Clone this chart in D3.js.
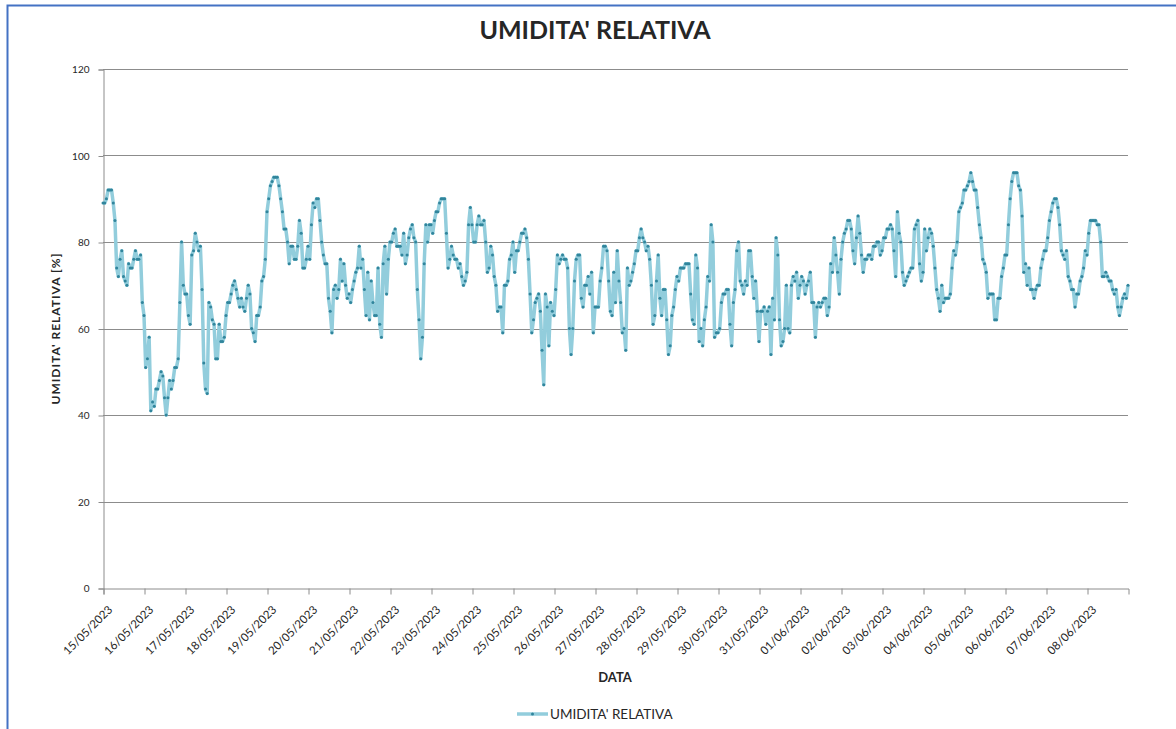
<!DOCTYPE html>
<html>
<head>
<meta charset="utf-8">
<script src="https://cdn.jsdelivr.net/npm/d3@7"></script>
<style>
  body { margin: 0; background: #fff; }
  svg text { font-family: Lato, "Liberation Sans", sans-serif; fill: #262626; }
</style>
</head>
<body>
<svg id="chart" width="1176" height="729"></svg>
<script>
// dati orari, dal 15/05/2023 00:00 al 09/06/2023 00:00 (una riga = un giorno)
var startDay = '15/05/2023';
var humidity = [
  89,89,90,92,92,92,89,85,74,72,76,78,72,71,70,75,74,74,76,78,76,76,77,66,
  63,51,53,58,41,43,42,46,46,48,50,49,44,40,44,48,46,48,51,51,53,66,80,70,
  68,68,63,61,77,78,82,80,78,79,69,52,46,45,66,65,62,61,53,53,61,57,57,58,
  63,66,66,68,70,71,69,67,65,67,65,64,67,70,68,60,59,57,63,63,65,71,72,76,
  87,90,93,94,95,95,95,93,90,87,83,83,80,75,79,79,76,76,79,85,82,74,74,76,
  79,76,84,89,88,90,90,85,80,77,75,75,67,64,59,69,70,67,69,76,71,75,70,67,
  68,66,69,71,73,74,79,74,76,69,63,73,62,71,66,63,63,74,61,58,75,79,68,76,
  80,80,82,83,79,79,79,77,82,75,77,81,83,84,81,80,69,62,53,58,75,84,80,84,
  84,82,85,87,87,89,90,90,90,82,74,76,79,77,76,76,74,75,72,70,71,73,84,88,
  84,80,80,84,86,84,84,85,80,73,74,79,77,72,70,64,65,65,59,70,70,71,76,77,
  80,73,78,78,80,82,82,83,81,76,68,59,62,66,67,68,64,55,47,68,65,56,66,64,
  63,69,77,75,76,77,76,76,74,60,54,60,71,76,77,77,67,65,70,70,72,68,73,59,
  65,65,65,71,74,79,79,78,71,64,63,73,66,78,71,66,59,60,55,74,70,71,73,75,
  78,78,81,83,81,80,78,79,76,70,61,63,71,77,67,63,69,69,62,54,56,63,65,69,
  72,71,74,74,74,75,75,75,68,62,61,77,74,57,60,56,62,65,72,71,84,80,58,59,
  59,60,66,68,68,69,69,61,56,66,69,78,80,71,70,68,71,70,78,78,72,67,71,64,
  57,64,64,65,61,64,65,54,67,62,81,77,62,56,57,60,70,60,59,70,72,71,73,67,
  70,72,71,68,70,71,73,66,66,58,65,66,65,66,67,67,63,65,75,73,81,77,73,68,
  76,80,82,83,85,85,83,78,75,81,86,82,77,73,76,76,77,77,76,79,79,80,80,77,
  78,81,81,83,83,84,83,78,72,87,82,80,73,70,71,72,73,74,74,83,84,85,75,71,
  73,83,78,81,83,82,79,74,69,67,64,70,66,67,67,67,68,74,78,77,80,87,88,89,
  92,92,93,94,96,94,92,92,88,84,81,76,75,73,67,68,68,68,62,62,67,67,72,74,
  77,77,84,90,94,96,96,96,93,92,86,73,75,70,74,69,69,67,69,70,70,74,76,78,
  78,81,85,87,89,90,90,88,84,78,77,76,78,72,71,69,69,65,68,68,71,72,74,78,
  77,82,85,85,85,85,84,84,80,72,72,73,72,71,71,69,68,69,65,63,65,67,68,67,
  70
];
var dayLabels = [
  '15/05/2023','16/05/2023','17/05/2023','18/05/2023','19/05/2023','20/05/2023',
  '21/05/2023','22/05/2023','23/05/2023','24/05/2023','25/05/2023','26/05/2023',
  '27/05/2023','28/05/2023','29/05/2023','30/05/2023','31/05/2023','01/06/2023',
  '02/06/2023','03/06/2023','04/06/2023','05/06/2023','06/06/2023','07/06/2023',
  '08/06/2023'
];
var yTicks = [0, 20, 40, 60, 80, 100, 120];

(function() {
  var parseDay = d3.utcParse('%d/%m/%Y');
  var fmtDay = d3.utcFormat('%d/%m/%Y');
  var t0 = parseDay(startDay);

  var data = humidity.map(function(v, i) {
    return { date: d3.utcHour.offset(t0, i), value: v };
  });

  var svg = d3.select('#chart');
  var plotLeft = 103, plotRight = 1128, plotTop = 69, plotBottom = 588;

  var x = d3.scaleUtc()
    .domain([t0, d3.utcDay.offset(t0, dayLabels.length)])
    .range([plotLeft, plotRight]);
  var y = d3.scaleLinear()
    .domain([0, 120])
    .range([plotBottom, plotTop]);

  // cornice
  svg.append('path')
    .attr('d', 'M7.5,729 V5.5 H1176')
    .attr('fill', 'none')
    .attr('stroke', '#4472c4')
    .attr('stroke-width', 2);

  // griglia
  svg.append('g')
    .selectAll('line')
    .data(yTicks.slice(1))
    .enter()
    .append('line')
    .attr('x1', plotLeft)
    .attr('x2', plotRight)
    .attr('y1', function(d) { return Math.round(y(d)) + 0.5; })
    .attr('y2', function(d) { return Math.round(y(d)) + 0.5; })
    .attr('stroke', '#8c8c8c')
    .attr('stroke-width', 1);

  // asse y
  var yAxis = svg.append('g')
    .attr('transform', 'translate(' + (plotLeft + 0.5) + ',0.5)')
    .call(d3.axisLeft(y).tickValues(yTicks).tickSize(5).tickPadding(9));
  yAxis.selectAll('line, path').attr('stroke', '#8c8c8c');
  yAxis.selectAll('text').style('font-size', '10px').style('fill', '#262626');

  // asse x
  var xAxis = svg.append('g')
    .attr('transform', 'translate(0.5,' + (plotBottom + 0.5) + ')')
    .call(d3.axisBottom(x)
      .tickValues(dayLabels.map(parseDay))
      .tickFormat(fmtDay)
      .tickSize(6));
  xAxis.selectAll('line, path').attr('stroke', '#8c8c8c');
  xAxis.selectAll('text')
    .style('font-size', '11.5px')
    .style('fill', '#262626')
    .attr('text-anchor', 'end')
    .attr('x', -9)
    .attr('y', 18)
    .attr('dy', '0.35em')
    .attr('transform', 'rotate(-45)');

  // linea e marcatori
  var line = d3.line()
    .x(function(d) { return x(d.date); })
    .y(function(d) { return y(d.value); });

  svg.append('path')
    .datum(data)
    .attr('d', line)
    .attr('fill', 'none')
    .attr('stroke', '#92cddc')
    .attr('stroke-width', 3.5)
    .attr('stroke-linejoin', 'round');

  svg.append('g')
    .selectAll('circle')
    .data(data)
    .enter()
    .append('circle')
    .attr('cx', function(d) { return x(d.date); })
    .attr('cy', function(d) { return y(d.value); })
    .attr('r', 1.5)
    .attr('fill', '#31859c');

  // titoli
  svg.append('text')
    .attr('x', 595)
    .attr('y', 39)
    .attr('text-anchor', 'middle')
    .style('font-size', '25px')
    .style('font-weight', 'bold')
    .text("UMIDITA' RELATIVA");

  svg.append('text')
    .attr('transform', 'translate(60,' + ((plotTop + plotBottom) / 2) + ') rotate(-90)')
    .attr('text-anchor', 'middle')
    .style('font-size', '12px')
    .style('font-weight', 'bold')
    .style('letter-spacing', '1px')
    .text("UMIDITA' RELATIVA  [%]");

  svg.append('text')
    .attr('x', 615)
    .attr('y', 682)
    .attr('text-anchor', 'middle')
    .style('font-size', '13px')
    .style('font-weight', 'bold')
    .text('DATA');

  // legenda
  var legend = svg.append('g').attr('transform', 'translate(517,714)');
  legend.append('line')
    .attr('x1', 0).attr('x2', 31)
    .attr('stroke', '#92cddc')
    .attr('stroke-width', 3.5);
  legend.append('circle')
    .attr('cx', 15.5)
    .attr('r', 1.5)
    .attr('fill', '#31859c');
  legend.append('text')
    .attr('x', 33)
    .attr('y', 5)
    .style('font-size', '13.5px')
    .text("UMIDITA' RELATIVA");
}());
</script>
</body>
</html>
